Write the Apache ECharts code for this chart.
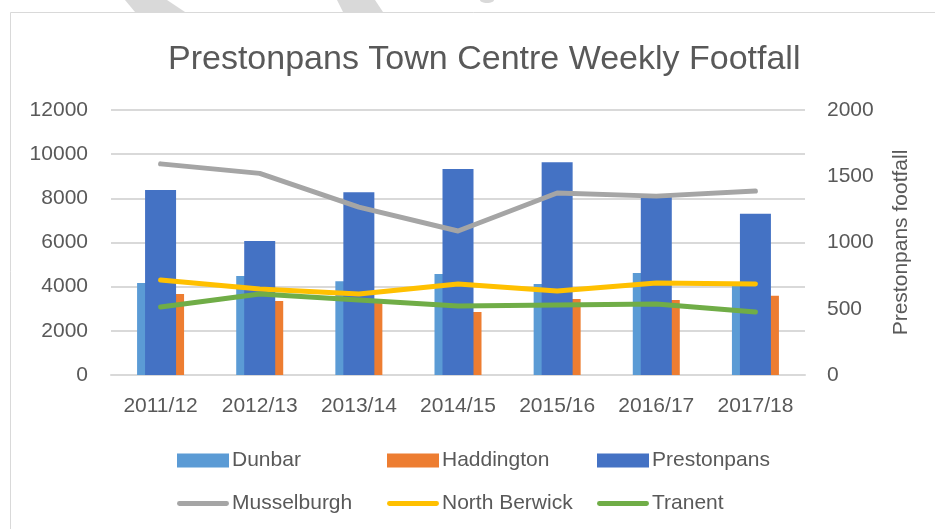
<!DOCTYPE html>
<html lang="en">
<head>
    <meta charset="UTF-8">
    <title>Prestonpans Town Centre Weekly Footfall</title>
    <script src="https://cdn.jsdelivr.net/npm/echarts@6.0.0/dist/echarts.min.js"></script>
    <style>
        html, body {
            margin: 0;
            padding: 0;
            background: #fff;
        }
        #main {
            width: 935px;
            height: 529px;
        }
    </style>
</head>
<body>
<div id="main"></div>
<script type="text/javascript">
    // values
    var years = ['2011/12', '2012/13', '2013/14', '2014/15', '2015/16', '2016/17', '2017/18'];
    var dunbar = [4170, 4480, 4250, 4570, 4120, 4620, 4150];
    var haddington = [3670, 3350, 3330, 2850, 3440, 3400, 3590];
    var prestonpans = [1396, 1011, 1380, 1555, 1605, 1345, 1217];   // right axis
    var musselburgh = [9560, 9130, 7600, 6520, 8240, 8100, 8330];
    var northBerwick = [4300, 3890, 3670, 4120, 3800, 4170, 4120];
    var tranent = [3080, 3670, 3400, 3120, 3170, 3210, 2850];

    var leftTicks = {min: 0, max: 12000, interval: 2000};
    var rightTicks = {min: 0, max: 2000, interval: 500};

    var txt = '#595959';
    var font = 'Liberation Sans';
    var gridCol = '#d9d9d9';
    var lineIcon = 'path://M2,0 L98,0 A5,5 0 0 1 98,10 L2,10 A5,5 0 0 1 2,0 Z';

    var myChart = echarts.init(document.getElementById('main'), null, {renderer: 'canvas'});

    function lineSeries(name, values, color) {
        return {
            name: name,
            type: 'line',
            data: values,
            symbol: 'none',
            z: 5,
            lineStyle: {width: 5, color: color, cap: 'round', join: 'round'},
            itemStyle: {color: color}
        };
    }

    function columnLegend(left, barName, lineName) {
        return {
            left: left,
            top: 445,
            orient: 'vertical',
            itemGap: 22,
            itemWidth: 52,
            itemHeight: 14,
            textStyle: {color: txt, fontFamily: font, fontSize: 21, padding: [0, 0, 0, -2]},
            data: [
                {name: barName, icon: 'rect'},
                {name: lineName, icon: lineIcon}
            ]
        };
    }

    function plain(v) {
        return String(v);
    }

    var option = {
        animation: false,
        backgroundColor: '#fff',
        textStyle: {fontFamily: font},
        title: {
            text: 'Prestonpans Town Centre Weekly Footfall',
            left: 163,
            top: 38,
            textStyle: {color: txt, fontFamily: font, fontWeight: 'normal', fontSize: 34}
        },
        graphic: [
            {type: 'rect', shape: {x: 10.5, y: 12.5, width: 940, height: 540}, style: {fill: null, stroke: '#d9d9d9', lineWidth: 1}, z: -1},
            {type: 'polygon', shape: {points: [[125, 0], [167, 0], [185, 12], [135, 12]]}, style: {fill: '#d9d9d9'}},
            {type: 'polygon', shape: {points: [[337, 0], [375, 0], [383, 12], [343, 12]]}, style: {fill: '#d9d9d9'}},
            {type: 'ellipse', shape: {cx: 487, cy: 0, rx: 7, ry: 3}, style: {fill: '#d9d9d9'}}
        ],
        legend: [
            columnLegend(172, 'Dunbar', 'Musselburgh'),
            columnLegend(382, 'Haddington', 'North Berwick'),
            columnLegend(592, 'Prestonpans', 'Tranent')
        ],
        grid: {left: 111, right: 130, top: 110, bottom: 154},
        xAxis: [
            {
                type: 'category',
                data: years,
                axisLine: {lineStyle: {color: gridCol, width: 2}},
                axisTick: {show: false},
                axisLabel: {color: txt, fontFamily: font, fontSize: 21, margin: 21}
            },
            {
                type: 'category',
                data: years,
                show: false
            }
        ],
        yAxis: [
            {
                type: 'value',
                min: leftTicks.min,
                max: leftTicks.max,
                interval: leftTicks.interval,
                axisLine: {show: false},
                axisTick: {show: false},
                splitLine: {lineStyle: {color: gridCol, width: 2}},
                axisLabel: {color: txt, fontFamily: font, fontSize: 21, margin: 23, formatter: plain}
            },
            {
                type: 'value',
                min: rightTicks.min,
                max: rightTicks.max,
                interval: rightTicks.interval,
                name: 'Prestonpans footfall',
                nameLocation: 'middle',
                nameGap: 86,
                nameRotate: 90,
                nameTextStyle: {color: txt, fontFamily: font, fontSize: 21},
                axisLine: {show: false},
                axisTick: {show: false},
                splitLine: {show: false},
                axisLabel: {color: txt, fontFamily: font, fontSize: 21, margin: 22, formatter: plain}
            }
        ],
        series: [
            {
                name: 'Dunbar',
                type: 'bar',
                data: dunbar,
                barWidth: 23.5,
                barGap: '0%',
                itemStyle: {color: '#5b9bd5'},
                z: 2
            },
            {
                name: 'Haddington',
                type: 'bar',
                data: haddington,
                barWidth: 23.5,
                barGap: '0%',
                itemStyle: {color: '#ed7d31'},
                z: 2
            },
            {
                name: 'Prestonpans',
                type: 'bar',
                xAxisIndex: 1,
                yAxisIndex: 1,
                data: prestonpans,
                barWidth: 31,
                itemStyle: {color: '#4472c4'},
                z: 3
            },
            lineSeries('Musselburgh', musselburgh, '#a5a5a5'),
            lineSeries('North Berwick', northBerwick, '#ffc000'),
            lineSeries('Tranent', tranent, '#70ad47')
        ]
    };

    myChart.setOption(option);
</script>
</body>
</html>
